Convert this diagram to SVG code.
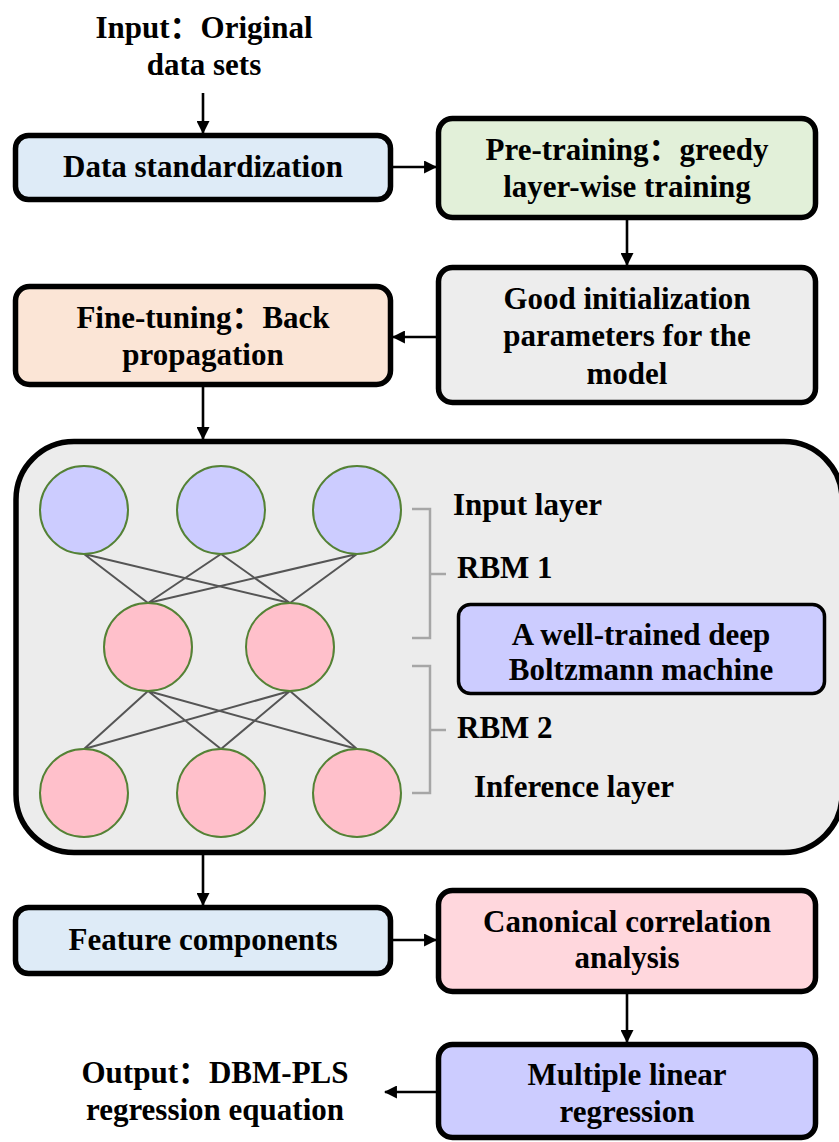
<svg xmlns="http://www.w3.org/2000/svg" width="839" height="1142" viewBox="0 0 839 1142">
<defs>
<marker id="ah" markerWidth="5" markerHeight="5" refX="4.6" refY="2.5" orient="auto" markerUnits="strokeWidth">
<path d="M0,0 L5,2.5 L0,5 Z" fill="#000"/>
</marker>
<style>
text{font-family:"Liberation Serif","Times New Roman",Tinos,"DejaVu Serif","Noto Sans CJK SC",serif;font-weight:bold;font-size:31px;fill:#000}
.c{text-anchor:middle}
.box{stroke:#000;stroke-width:5.5}
.conn{stroke:#000;stroke-width:2.6;fill:none;marker-end:url(#ah)}
.nl{stroke:#555;stroke-width:2;fill:none}
.br{stroke:#a6a6a6;stroke-width:2.5;fill:none}
.blue{fill:#ccccff;stroke:#548235;stroke-width:2}
.pink{fill:#ffc0cb;stroke:#548235;stroke-width:2}
</style>
</defs>
<rect width="839" height="1142" fill="#fff"/>

<g id="input">
<text class="c" x="204" y="38">Input：Original</text>
<text class="c" x="204" y="75">data sets</text>
</g>

<g id="data-standardization">
<rect class="box" x="15.5" y="135.5" width="375" height="64" rx="13" fill="#deebf7"/>
<text class="c" x="203" y="177">Data standardization</text>
</g>

<g id="pre-training">
<rect class="box" x="438.5" y="118.5" width="377" height="99" rx="14" fill="#e2f0d9"/>
<text class="c" x="627" y="160">Pre-training：greedy</text>
<text class="c" x="627" y="197">layer-wise training</text>
</g>

<g id="good-initialization">
<rect class="box" x="438.5" y="267.5" width="377" height="135" rx="14" fill="#ededed"/>
<text class="c" x="627" y="309">Good initialization</text>
<text class="c" x="627" y="346">parameters for the</text>
<text class="c" x="627" y="384">model</text>
</g>

<g id="fine-tuning">
<rect class="box" x="15.5" y="286.5" width="375" height="98" rx="14" fill="#fbe5d6"/>
<text class="c" x="203" y="328">Fine-tuning：Back</text>
<text class="c" x="203" y="365">propagation</text>
</g>

<g id="dbm">
<rect class="box" x="16" y="441.5" width="826" height="411" rx="58" fill="#ececec"/>
<g id="rbm-lines">
<path class="nl" d="M84,554 L148,603 M84,554 L290,603 M221,554 L148,603 M221,554 L290,603 M357,554 L148,603 M357,554 L290,603"/>
<path class="nl" d="M148,691 L84,749 M148,691 L221,749 M148,691 L357,749 M290,691 L84,749 M290,691 L221,749 M290,691 L357,749"/>
</g>
<g id="visible-units">
<circle class="blue" cx="84" cy="510" r="44"/>
<circle class="blue" cx="221" cy="510" r="44"/>
<circle class="blue" cx="357" cy="510" r="44"/>
</g>
<g id="hidden-units">
<circle class="pink" cx="148" cy="647" r="44"/>
<circle class="pink" cx="290" cy="647" r="44"/>
</g>
<g id="inference-units">
<circle class="pink" cx="84" cy="793" r="44"/>
<circle class="pink" cx="221" cy="793" r="44"/>
<circle class="pink" cx="357" cy="793" r="44"/>
</g>
<g id="brackets">
<path class="br" d="M412,509 H430 V638 H412 M430,574 H446"/>
<path class="br" d="M412,666 H430 V793 H412 M430,730 H446"/>
</g>
<text x="453" y="515">Input layer</text>
<text x="457" y="578">RBM 1</text>
<text x="457" y="738">RBM 2</text>
<text x="474" y="797">Inference layer</text>
</g>

<g id="well-trained">
<rect x="458.5" y="604.5" width="366" height="89" rx="12" fill="#ccccff" stroke="#000" stroke-width="3.5"/>
<text class="c" x="641" y="645">A well-trained deep</text>
<text class="c" x="641" y="680">Boltzmann machine</text>
</g>

<g id="feature-components">
<rect class="box" x="15.5" y="907.5" width="375" height="66" rx="13" fill="#deebf7"/>
<text class="c" x="203" y="950">Feature components</text>
</g>

<g id="canonical">
<rect class="box" x="438.5" y="890.5" width="377" height="101" rx="14" fill="#ffd7dd"/>
<text class="c" x="627" y="932">Canonical correlation</text>
<text class="c" x="627" y="968">analysis</text>
</g>

<g id="multiple-regression">
<rect class="box" x="438.5" y="1044.5" width="377" height="93" rx="14" fill="#ccccff"/>
<text class="c" x="627" y="1085">Multiple linear</text>
<text class="c" x="627" y="1122">regression</text>
</g>

<g id="output">
<text class="c" x="215" y="1083">Output：DBM-PLS</text>
<text class="c" x="215" y="1120">regression equation</text>
</g>

<g id="connectors">
<line class="conn" x1="203" y1="93" x2="203" y2="133"/>
<line class="conn" x1="393" y1="167" x2="436" y2="167"/>
<line class="conn" x1="627" y1="220" x2="627" y2="265"/>
<line class="conn" x1="436" y1="337" x2="393" y2="337"/>
<line class="conn" x1="203" y1="387" x2="203" y2="439"/>
<line class="conn" x1="203" y1="855" x2="203" y2="905"/>
<line class="conn" x1="393" y1="940" x2="436" y2="940"/>
<line class="conn" x1="627" y1="994" x2="627" y2="1042"/>
<line class="conn" x1="436" y1="1092" x2="385" y2="1092"/>
</g>
</svg>
